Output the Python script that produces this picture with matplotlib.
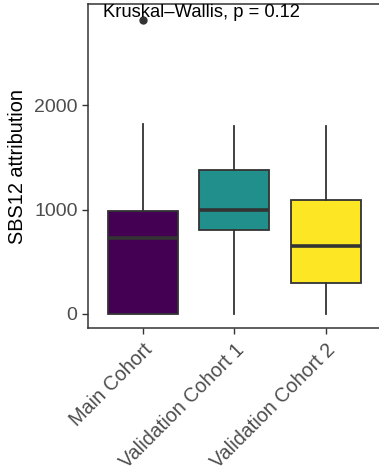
import matplotlib
matplotlib.use("Agg")
import matplotlib.pyplot as plt

# box statistics
cohorts = ["Main Cohort", "Validation Cohort 1", "Validation Cohort 2"]
whisker_low = [0, 0, 0]
q1 = [0, 804, 294]
median = [730, 1000, 654]
q3 = [990, 1381, 1088]
whisker_high = [1815, 1799, 1799]
outliers = [[2818], [], []]
colors = ["#440154", "#21908C", "#FDE725"]
y_ticks = [0, 1000, 2000]
p_label = "Kruskal\u2013Wallis, p = 0.12"

plt.rcParams["font.family"] = ["Liberation Sans", "DejaVu Sans"]

fig = plt.figure(figsize=(3.79, 4.74), dpi=100)
ax = fig.add_axes([88 / 379, 146 / 474, 292.8 / 379, 324 / 474])

stats = []
for i, name in enumerate(cohorts):
    stats.append({
        "label": name,
        "whislo": whisker_low[i],
        "q1": q1[i],
        "med": median[i],
        "q3": q3[i],
        "whishi": whisker_high[i],
        "fliers": outliers[i],
    })

bp = ax.bxp(
    stats,
    positions=range(1, len(cohorts) + 1),
    widths=0.765,
    patch_artist=True,
    showcaps=False,
    boxprops=dict(edgecolor="#333333", linewidth=1.3),
    whiskerprops=dict(color="#333333", linewidth=1.3),
    medianprops=dict(color="#333333", linewidth=2.6, solid_capstyle="butt"),
    flierprops=dict(marker="o", markerfacecolor="#333333", markeredgecolor="#333333", markersize=5),
)
for patch, c in zip(bp["boxes"], colors):
    patch.set_facecolor(c)

ax.set_xlim(0.4, 3.6)
ax.set_ylim(-134, 2967)
ax.set_yticks(y_ticks)
ax.set_yticklabels([str(v) for v in y_ticks], fontsize=14, color="#4D4D4D")
ax.set_xticks(range(1, len(cohorts) + 1))
ax.set_xticklabels(cohorts, rotation=45, ha="right", rotation_mode="anchor",
                   fontsize=14.2, color="#4D4D4D")
ax.tick_params(axis="both", length=4.5, width=1, color="#333333", pad=3)
ax.tick_params(axis="x", pad=4)
ax.set_ylabel("SBS12 attribution", fontsize=14.3, color="black", labelpad=5)

for side in ["left", "bottom", "top"]:
    ax.spines[side].set_color("#333333")
    ax.spines[side].set_linewidth(1.1)
ax.spines["right"].set_visible(False)

ax.text(0.565, 2885, p_label, ha="left", va="center", fontsize=13.2, color="black")

fig.savefig("out.png", dpi=100)
